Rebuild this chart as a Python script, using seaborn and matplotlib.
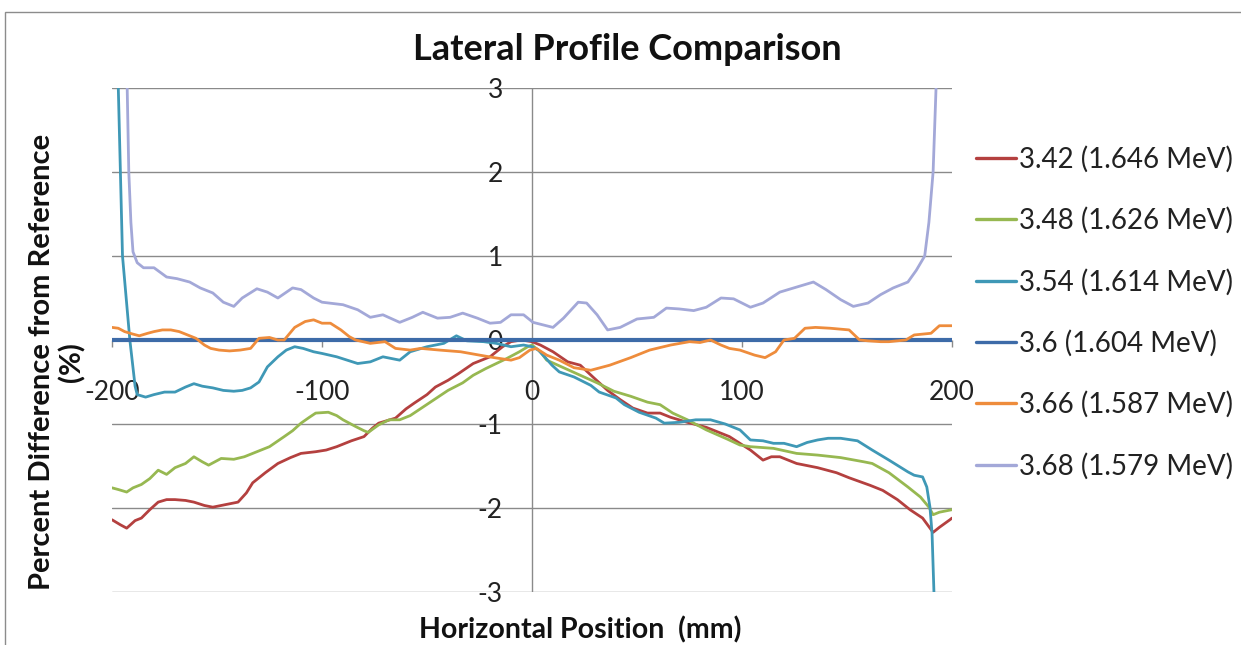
import matplotlib
matplotlib.use("Agg")
import matplotlib.pyplot as plt
from matplotlib.patches import Rectangle
from matplotlib.lines import Line2D
import numpy as np
import pandas as pd
import seaborn as sns

# ---------------- data ----------------
labels = ["3.42 (1.646 MeV)", "3.48 (1.626 MeV)", "3.54 (1.614 MeV)",
          "3.6 (1.604 MeV)", "3.66 (1.587 MeV)", "3.68 (1.579 MeV)"]
colors = ["#B4403F", "#97B851", "#3F98B6", "#3D6BA8", "#EE8C3C", "#A3A8D8"]

x_342 = [-200, -196, -193, -189, -186, -182, -178, -174, -170, -165, -161, -156, -152, -146,
         -140, -136, -133, -127, -121, -115, -110, -103, -98, -93, -86, -80, -76, -73, -65,
         -60, -56, -50, -46, -40, -35, -28, -20, -14, -10, -5, 0, 4, 10, 17, 23, 29, 36, 42,
         48, 55, 61, 66, 74, 83, 90, 94, 99, 104, 110, 114, 118, 126, 136, 145, 151, 161,
         167, 174, 180, 186, 191, 194, 199, 200]
y_342 = [-2.14, -2.20, -2.24, -2.15, -2.12, -2.02, -1.93, -1.90, -1.90, -1.91, -1.93, -1.97,
         -1.99, -1.96, -1.93, -1.82, -1.70, -1.58, -1.47, -1.40, -1.35, -1.33, -1.31, -1.27,
         -1.20, -1.15, -1.05, -0.99, -0.93, -0.82, -0.75, -0.65, -0.56, -0.48, -0.40, -0.28,
         -0.20, -0.08, -0.02, 0.00, -0.02, -0.06, -0.14, -0.26, -0.30, -0.44, -0.60, -0.71,
         -0.81, -0.87, -0.87, -0.92, -0.98, -1.04, -1.11, -1.15, -1.23, -1.31, -1.43, -1.39,
         -1.39, -1.47, -1.52, -1.58, -1.64, -1.73, -1.79, -1.90, -2.02, -2.12, -2.29, -2.23,
         -2.14, -2.12]

x_348 = [-200, -197, -193, -190, -186, -182, -178, -174, -170, -165, -161, -157, -154, -148,
         -142, -137, -131, -125, -118, -114, -110, -106, -103, -97, -93, -90, -84, -80, -78,
         -73, -68, -63, -58, -52, -46, -40, -33, -28, -22, -17, -12, -6, -2, 0, 4, 7, 15, 23,
         31, 39, 47, 55, 61, 67, 74, 83, 93, 99, 104, 115, 126, 136, 147, 158, 162, 170, 179,
         185, 189, 191, 194, 200]
y_348 = [-1.76, -1.78, -1.81, -1.76, -1.72, -1.65, -1.55, -1.60, -1.52, -1.47, -1.39, -1.45,
         -1.49, -1.41, -1.42, -1.39, -1.33, -1.27, -1.15, -1.08, -0.99, -0.92, -0.87, -0.86,
         -0.90, -0.95, -1.03, -1.08, -1.10, -1.01, -0.95, -0.95, -0.90, -0.80, -0.70, -0.60,
         -0.51, -0.42, -0.34, -0.28, -0.22, -0.14, -0.08, -0.06, -0.14, -0.24, -0.33, -0.42,
         -0.51, -0.61, -0.67, -0.74, -0.77, -0.87, -0.95, -1.07, -1.18, -1.25, -1.27, -1.29,
         -1.35, -1.37, -1.40, -1.45, -1.47, -1.58, -1.75, -1.87, -1.99, -2.08, -2.05, -2.02]

x_354 = [-199.5, -197, -196, -195, -191.5, -189, -188, -184, -180, -175, -170, -165, -161,
         -157, -152, -147, -142, -138, -134, -130, -126, -121, -117, -113, -109, -104, -100,
         -93, -83, -77, -71, -63, -58, -50, -42, -36, -31, -23, -17, -10, -4, 0, 3, 6, 9.5,
         13, 20, 28, 32, 40, 44, 51, 59, 63, 70, 78, 85, 92, 99, 104, 110, 115, 120, 126, 131,
         136, 141, 147, 155, 162, 170, 179, 182, 186, 188, 189.5, 190.5, 191.4, 192]
y_354 = [5.0, 3.0, 2.0, 1.0, 0.0, -0.55, -0.65, -0.68, -0.65, -0.62, -0.62, -0.56, -0.52,
         -0.55, -0.57, -0.60, -0.61, -0.60, -0.57, -0.50, -0.32, -0.20, -0.12, -0.08, -0.10,
         -0.14, -0.16, -0.20, -0.28, -0.26, -0.20, -0.24, -0.14, -0.08, -0.04, 0.05, -0.01,
         -0.02, -0.04, -0.08, -0.06, -0.08, -0.12, -0.20, -0.30, -0.38, -0.44, -0.54, -0.62,
         -0.69, -0.77, -0.86, -0.93, -0.99, -0.98, -0.95, -0.95, -1.00, -1.07, -1.19, -1.20,
         -1.23, -1.23, -1.27, -1.22, -1.19, -1.17, -1.17, -1.20, -1.31, -1.43, -1.57, -1.61,
         -1.63, -1.75, -1.99, -2.30, -3.00, -4.00]

x_360 = [-200, -100, 0, 100, 200]
y_360 = [0.0, 0.0, 0.0, 0.0, 0.0]

x_366 = [-200, -197, -194, -190, -187, -183, -180, -176, -172, -168, -164, -160, -156, -153,
         -149, -144, -139, -134, -130, -125, -121, -118, -113, -108, -104, -100, -96, -91,
         -87, -84, -77, -70, -65, -58, -53, -44, -34, -25, -18, -10, -6, -1, 2, 7, 13, 20,
         28, 37, 47, 56, 66, 75, 80, 85, 90, 94, 99, 106, 111, 116, 120, 125, 130, 135, 142,
         151, 156, 160, 166, 170, 178, 182, 190, 194, 200]
y_366 = [0.15, 0.14, 0.10, 0.07, 0.05, 0.08, 0.10, 0.12, 0.12, 0.10, 0.06, 0.02, -0.06,
         -0.10, -0.12, -0.13, -0.12, -0.10, 0.02, 0.03, 0.00, 0.00, 0.15, 0.22, 0.24, 0.20,
         0.20, 0.12, 0.04, 0.00, -0.04, -0.02, -0.10, -0.12, -0.10, -0.12, -0.14, -0.18,
         -0.21, -0.24, -0.21, -0.12, -0.10, -0.18, -0.24, -0.33, -0.36, -0.30, -0.21, -0.12,
         -0.06, -0.02, -0.03, 0.00, -0.06, -0.10, -0.12, -0.18, -0.21, -0.14, 0.00, 0.02,
         0.14, 0.15, 0.14, 0.12, 0.00, -0.01, -0.02, -0.02, 0.00, 0.06, 0.08, 0.17, 0.17]

x_368 = [-194, -193, -192, -191, -190, -188, -185, -180, -174, -169, -163, -158, -152, -147,
         -142, -138, -131, -126, -121, -114, -110, -104, -100, -90, -83, -77, -71, -63, -57,
         -52, -45, -39, -33, -26, -20, -15, -10, -4, 0.5, 10, 15, 22, 26, 31, 36, 42, 50, 58,
         64, 70, 77, 83, 90, 96, 104, 110, 118, 126, 134, 140, 147, 153, 160, 166, 172, 179,
         183, 187, 189, 191, 192.4, 193.5]
y_368 = [4.5, 3.3, 2.0, 1.4, 1.05, 0.92, 0.86, 0.86, 0.75, 0.73, 0.69, 0.62, 0.56, 0.45,
         0.40, 0.50, 0.61, 0.57, 0.50, 0.62, 0.60, 0.50, 0.45, 0.42, 0.36, 0.27, 0.30, 0.21,
         0.27, 0.33, 0.26, 0.27, 0.32, 0.26, 0.20, 0.21, 0.30, 0.30, 0.21, 0.15, 0.26, 0.45,
         0.44, 0.30, 0.12, 0.15, 0.25, 0.27, 0.38, 0.37, 0.35, 0.39, 0.50, 0.49, 0.39, 0.44,
         0.57, 0.63, 0.69, 0.60, 0.48, 0.40, 0.44, 0.54, 0.62, 0.69, 0.83, 1.00, 1.40, 2.00,
         3.00, 4.50]

xs = [x_342, x_348, x_354, x_360, x_366, x_368]
ys = [y_342, y_348, y_354, y_360, y_366, y_368]

x_ticks = [-200, -100, 0, 100, 200]
y_ticks = [-3, -2, -1, 0, 1, 2, 3]

# ---------------- figure ----------------
sns.set_theme(style="white")
plt.rcParams["font.family"] = ["Lato", "DejaVu Sans"]
plt.rcParams["axes.unicode_minus"] = False

W, H = 1241, 645
fig = plt.figure(figsize=(W / 100, H / 100), dpi=100)
fig.patch.set_facecolor("white")
ax = fig.add_axes([112 / W, 53 / H, 840 / W, 504 / H])
ax.set_facecolor("white")

# gridlines + vertical axis line at x=0
grid_c = "#8A8A8A"
for yv in y_ticks:
    ax.axhline(yv, color=grid_c, lw=1.0, zorder=0)
ax.axvline(0, color=grid_c, lw=1.0, zorder=0)

for i, lab in enumerate(labels):
    df = pd.DataFrame({"x": xs[i], "y": ys[i]})
    sns.lineplot(data=df, x="x", y="y", ax=ax, color=colors[i], sort=False,
                 estimator=None, lw=3.0 if i == 3 else 2.0, label=lab, legend=False,
                 zorder=2 + i)

ax.set_xlim(-200, 200)
ax.set_ylim(-3, 3)
for s in ax.spines.values():
    s.set_visible(False)
ax.spines["left"].set_position(("data", 0))
ax.spines["bottom"].set_position(("data", 0))

ax.set_xticks(x_ticks)
ax.set_yticks(y_ticks)
ax.set_xticklabels([str(v) for v in x_ticks])
ax.set_yticklabels([str(v) for v in y_ticks])
ax.tick_params(axis="x", which="both", bottom=True, length=5, width=1, color=grid_c,
               direction="out", pad=24, labelsize=19, labelcolor="#222222")
ax.tick_params(axis="y", which="both", left=False, length=0, pad=21, labelsize=19,
               labelcolor="#222222")

ax.set_xlabel("Horizontal Position  (mm)", fontsize=20.5, fontweight="bold", color="#111111")
ax.xaxis.set_label_coords((580 - 112) / 840, (592 - 630) / 504)
ax.xaxis.label.set_va("center")
ax.set_ylabel("Percent Difference from Reference\n(%)", fontsize=21, fontweight="bold",
              color="#111111", linespacing=1.15)
ax.yaxis.set_label_coords((57 - 112) / 840, (592 - 362) / 504)
ax.yaxis.label.set_va("center")
ax.yaxis.label.set_ha("center")

fig.text(627 / W, 1 - 50 / H, "Lateral Profile Comparison", fontsize=26, fontweight="bold",
         ha="center", va="center", color="#111111")

handles = [Line2D([0], [0], color=c, lw=2.4) for c in colors]
fig.legend(handles, labels, loc="upper left", bbox_to_anchor=(976 / W, 1 - 146 / H),
           frameon=False, fontsize=20, handlelength=1.45, handletextpad=0.1,
           labelspacing=1.24, borderpad=0, borderaxespad=0, labelcolor="#222222")

fig.add_artist(Rectangle((5 / W, -0.1), 2.0, 1 - 12 / H + 0.1, transform=fig.transFigure,
                         fill=False, edgecolor="#8C8C8C", lw=1.0))

fig.savefig("out.png", dpi=100, facecolor="white")
